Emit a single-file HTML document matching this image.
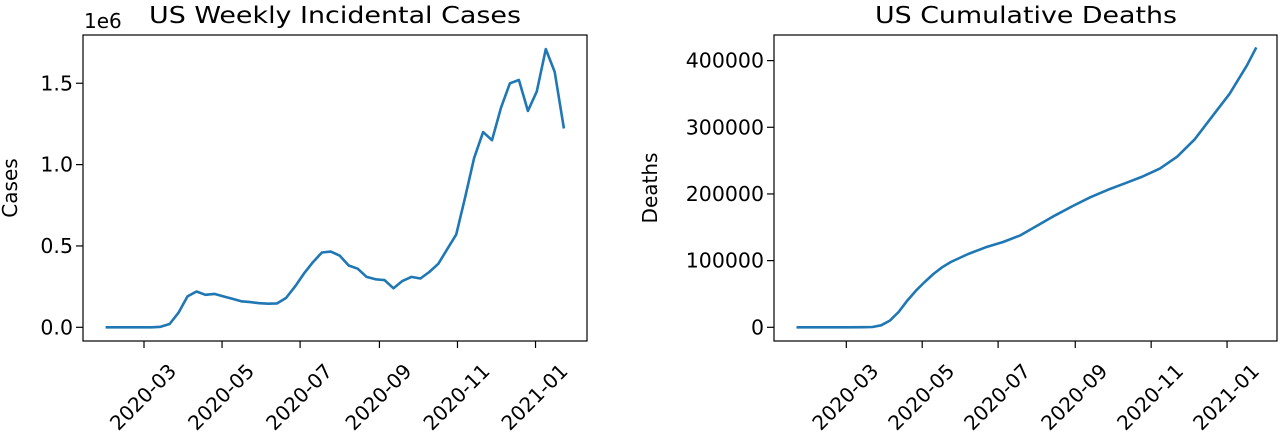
<!DOCTYPE html>
<html><head><meta charset="utf-8"><style>
body{margin:0;background:#fff}
svg text{font-family:"DejaVu Sans","Liberation Sans",sans-serif;fill:#000}
</style></head><body>
<svg id="c" width="1280" height="437" xmlns="http://www.w3.org/2000/svg"></svg>
<script>
// Left chart data: weekly cases (millions), first week day-of-2020 = 31, 7-day steps
const casesStartDay = 31;
const casesValues = [0,0,0,0,0,0,0.003,0.02,0.09,0.19,0.22,0.20,0.205,0.19,0.175,0.16,0.155,0.148,0.145,0.147,0.18,0.25,0.33,0.40,0.46,0.465,0.44,0.38,0.36,0.31,0.295,0.29,0.24,0.285,0.31,0.30,0.34,0.39,0.48,0.57,0.80,1.04,1.20,1.15,1.35,1.50,1.52,1.33,1.45,1.71,1.57,1.23];
const casesYTicks = [0,0.5,1.0,1.5];
const casesYTickLabels = ["0.0","0.5","1.0","1.5"];
// Right chart data: cumulative deaths at day-of-2020
const deathDays = [21,60,74,81,88,95,102,109,116,123,130,137,144,151,158,172,186,200,214,228,242,256,270,284,298,312,326,340,354,368,382,389];
const deathValues = [0,0,100,500,3000,10000,23000,40000,55000,68000,80000,90000,98000,104000,110000,120000,128000,138000,153000,168000,182000,195000,206000,216000,226000,238000,256000,282000,316000,350000,393000,418000];
const deathYTicks = [0,100000,200000,300000,400000];
const xTickDays = [60,121,182,244,305,366];
const xTickLabels = ["2020-03","2020-05","2020-07","2020-09","2020-11","2021-01"];

const svg = document.getElementById('c');
const NS = 'http://www.w3.org/2000/svg';
function mk(tag, attrs, parent){const e=document.createElementNS(NS,tag);for(const k in attrs)e.setAttribute(k,attrs[k]);(parent||svg).appendChild(e);return e;}

function chart(o){
  const g = mk('g',{});
  
  
  const xs = d => o.x0 + (d - o.d0) * o.pxDay;
  const ys = v => o.yZero - v * o.pxVal;
  // frame
  const fr = mk('rect',{x:o.L,y:o.T,width:o.R-o.L,height:o.B-o.T,fill:'none',stroke:'#000','stroke-width':1.2},g);
  
  
  // x ticks
  xTickDays.forEach((d,i)=>{
    const x = xs(d);
    const t = mk('line',{x1:x,x2:x,y1:o.B,y2:o.B+7,stroke:'#000','stroke-width':1.2},g);
    
    
    const tx = mk('text',{x:x-1,y:404,'font-size':20,'text-anchor':'middle',transform:`rotate(-45 ${x-1} 397)`},g);
    tx.textContent = xTickLabels[i];
    
    
  });
  // y ticks
  o.yTicks.forEach((v,i)=>{
    const y = ys(v);
    const t = mk('line',{x1:o.L-7,x2:o.L,y1:y,y2:y,stroke:'#000','stroke-width':1.2},g);
    
    
    const tx = mk('text',{x:o.L-10,y:y+7,'font-size':20.5,'text-anchor':'end'},g);
    tx.textContent = o.yLabels[i];
    
    
  });
  // line
  const pts = o.days.map((d,i)=>xs(d).toFixed(1)+','+ys(o.vals[i]).toFixed(1)).join(' ');
  const pl = mk('polyline',{points:pts,fill:'none',stroke:'#1f77b4','stroke-width':2.6,'stroke-linejoin':'round','stroke-linecap':'square'},g);
  
  
  // title
  const ti = mk('text',{x:o.titleX,y:23,'font-size':23,'text-anchor':'middle',textLength:o.titleW,lengthAdjust:'spacingAndGlyphs'},g);
  ti.textContent = o.title;
  
  
  // y label
  const yl = mk('text',{x:o.ylX,y:188,'font-size':20,'text-anchor':'middle',transform:`rotate(-90 ${o.ylX} 188)`,dy:7},g);
  yl.textContent = o.ylabel;
  
  
  return g;
}

const caseDays = casesValues.map((_,i)=>casesStartDay + i*7);
chart({name:'cases-chart',L:83,R:587,T:35,B:341,x0:144,d0:60,pxDay:1.2795,yZero:327.3,pxVal:162.7,
  yTicks:casesYTicks,yLabels:casesYTickLabels,days:caseDays,vals:casesValues,seriesName:'weekly-cases-line',
  title:'US Weekly Incidental Cases',titleX:335,titleW:372,ylabel:'Cases',ylX:10});
chart({name:'deaths-chart',L:774,R:1277,T:35,B:341,x0:846.3,d0:60,pxDay:1.2443,yZero:327.3,pxVal:266.7/400000,
  yTicks:deathYTicks,yLabels:deathYTicks.map(String),days:deathDays,vals:deathValues,seriesName:'cumulative-deaths-line',
  title:'US Cumulative Deaths',titleX:1026,titleW:302,ylabel:'Deaths',ylX:650});
const off = mk('text',{x:84,y:28,'font-size':20});
off.textContent = '1e6';


</script>
</body></html>
